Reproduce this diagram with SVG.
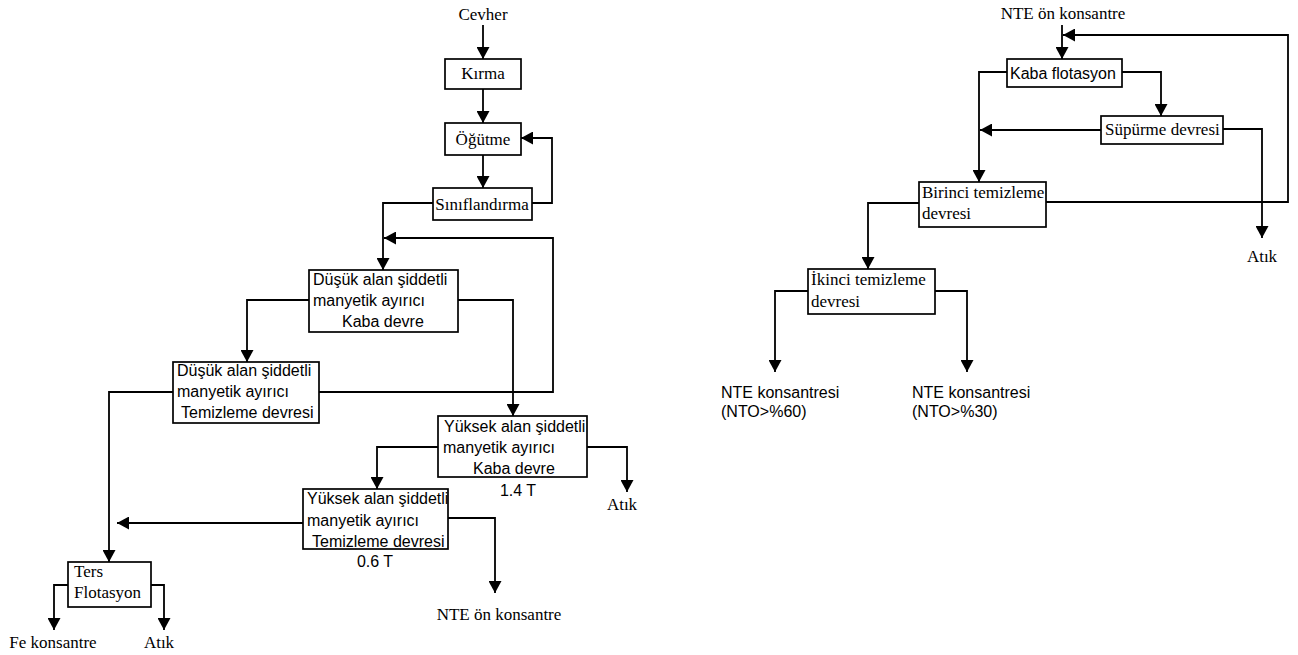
<svg xmlns="http://www.w3.org/2000/svg" width="1298" height="655" viewBox="0 0 1298 655">
<style>
.bx{fill:#fff;stroke:#000;stroke-width:1.7}
.sf{font-family:"Liberation Serif","Times New Roman",serif;font-size:17px;fill:#000}
.ss{font-family:"Liberation Sans",Arial,sans-serif;font-size:16px;fill:#000}
.c{text-anchor:middle}
#connectors path{fill:none;stroke:#000;stroke-width:1.8}
</style>
<defs>
<marker id="ah" markerUnits="userSpaceOnUse" markerWidth="12" markerHeight="13" viewBox="0 0 12 13" refX="12" refY="6.5" orient="auto">
<path d="M0,0 L12,6.5 L0,13 z" fill="#000"/>
</marker>
</defs>
<rect width="1298" height="655" fill="#fff"/>
<g id="connectors">
<path d="M483,25 V59" marker-end="url(#ah)"/>
<path d="M483,89 V123" marker-end="url(#ah)"/>
<path d="M483,155 V188" marker-end="url(#ah)"/>
<path d="M532,203 H552 V138 H521" marker-end="url(#ah)"/>
<path d="M433,203 H383 V270" marker-end="url(#ah)"/>
<path d="M319,392 H553 V238 H384" marker-end="url(#ah)"/>
<path d="M309,300 H247 V362" marker-end="url(#ah)"/>
<path d="M458,300 H513 V416" marker-end="url(#ah)"/>
<path d="M173,392 H109 V562" marker-end="url(#ah)"/>
<path d="M438,447 H377 V489" marker-end="url(#ah)"/>
<path d="M587,447 H627 V492" marker-end="url(#ah)"/>
<path d="M303,523 H117" marker-end="url(#ah)"/>
<path d="M448,518 H495 V593" marker-end="url(#ah)"/>
<path d="M68,585 H54 V630" marker-end="url(#ah)"/>
<path d="M151,585 H164 V630" marker-end="url(#ah)"/>
<path d="M1062,25 V59" marker-end="url(#ah)"/>
<path d="M1046,202 H1288 V35 H1063" marker-end="url(#ah)"/>
<path d="M1007,72 H979 V182" marker-end="url(#ah)"/>
<path d="M1122,72 H1161 V116" marker-end="url(#ah)"/>
<path d="M1101,130 H980" marker-end="url(#ah)"/>
<path d="M1223,129 H1262 V238" marker-end="url(#ah)"/>
<path d="M919,203 H868 V269" marker-end="url(#ah)"/>
<path d="M808,291 H775 V372" marker-end="url(#ah)"/>
<path d="M935,291 H967 V372" marker-end="url(#ah)"/>
</g>
<g id="cevher"><text class="sf c" x="483" y="20">Cevher</text></g>
<g id="kirma"><rect class="bx" x="445" y="59" width="76" height="30"/><text class="sf c" x="483" y="79">Kırma</text></g>
<g id="ogutme"><rect class="bx" x="445" y="123" width="76" height="32"/><text class="sf c" x="483" y="145">Öğütme</text></g>
<g id="siniflandirma"><rect class="bx" x="433" y="188" width="99" height="32"/><text class="sf c" x="482" y="210">Sınıflandırma</text></g>
<g id="dusuk-kaba"><rect class="bx" x="309" y="270" width="149" height="62"/>
<text class="ss" x="313" y="285">Düşük alan şiddetli</text>
<text class="ss" x="313" y="306">manyetik ayırıcı</text>
<text class="ss" x="342" y="327">Kaba devre</text></g>
<g id="dusuk-temizleme"><rect class="bx" x="173" y="362" width="146" height="61"/>
<text class="ss" x="177" y="376">Düşük alan şiddetli</text>
<text class="ss" x="177" y="397">manyetik ayırıcı</text>
<text class="ss" x="181" y="418">Temizleme devresi</text></g>
<g id="yuksek-kaba"><rect class="bx" x="438" y="416" width="149" height="61"/>
<text class="ss" x="444" y="432">Yüksek alan şiddetli</text>
<text class="ss" x="443" y="453">manyetik ayırıcı</text>
<text class="ss" x="473" y="474">Kaba devre</text>
<text class="ss c" x="518" y="496">1.4 T</text></g>
<g id="atik1"><text class="sf c" x="622" y="510">Atık</text></g>
<g id="yuksek-temizleme"><rect class="bx" x="303" y="489" width="145" height="60"/>
<text class="ss" x="307" y="504">Yüksek alan şiddetli</text>
<text class="ss" x="307" y="526">manyetik ayırıcı</text>
<text class="ss" x="312" y="547">Temizleme devresi</text>
<text class="ss c" x="375" y="567">0.6 T</text></g>
<g id="nte-on-1"><text class="sf c" x="499" y="620">NTE ön konsantre</text></g>
<g id="ters"><rect class="bx" x="68" y="562" width="83" height="45"/>
<text class="sf" x="74" y="577">Ters</text>
<text class="sf" x="74" y="598">Flotasyon</text></g>
<g id="fe"><text class="sf c" x="53" y="648">Fe konsantre</text></g>
<g id="atik2"><text class="sf c" x="159" y="648">Atık</text></g>
<g id="nte-on-2"><text class="sf c" x="1063" y="19">NTE ön konsantre</text></g>
<g id="kaba-flot"><rect class="bx" x="1007" y="59" width="115" height="28"/><text class="ss" x="1010" y="79">Kaba flotasyon</text></g>
<g id="supurme"><rect class="bx" x="1101" y="116" width="122" height="28"/><text class="sf" x="1105" y="135">Süpürme devresi</text></g>
<g id="birinci"><rect class="bx" x="919" y="182" width="127" height="45"/>
<text class="sf" x="922" y="198">Birinci temizleme</text>
<text class="sf" x="922" y="219">devresi</text></g>
<g id="atik3"><text class="sf c" x="1262" y="262">Atık</text></g>
<g id="ikinci"><rect class="bx" x="808" y="269" width="127" height="45"/>
<text class="sf" x="811" y="285">İkinci temizleme</text>
<text class="sf" x="811" y="307">devresi</text></g>
<g id="nte60"><text class="ss" x="721" y="398">NTE konsantresi</text><text class="ss" x="721" y="417">(NTO&gt;%60)</text></g>
<g id="nte30"><text class="ss" x="912" y="398">NTE konsantresi</text><text class="ss" x="912" y="417">(NTO&gt;%30)</text></g>
</svg>
